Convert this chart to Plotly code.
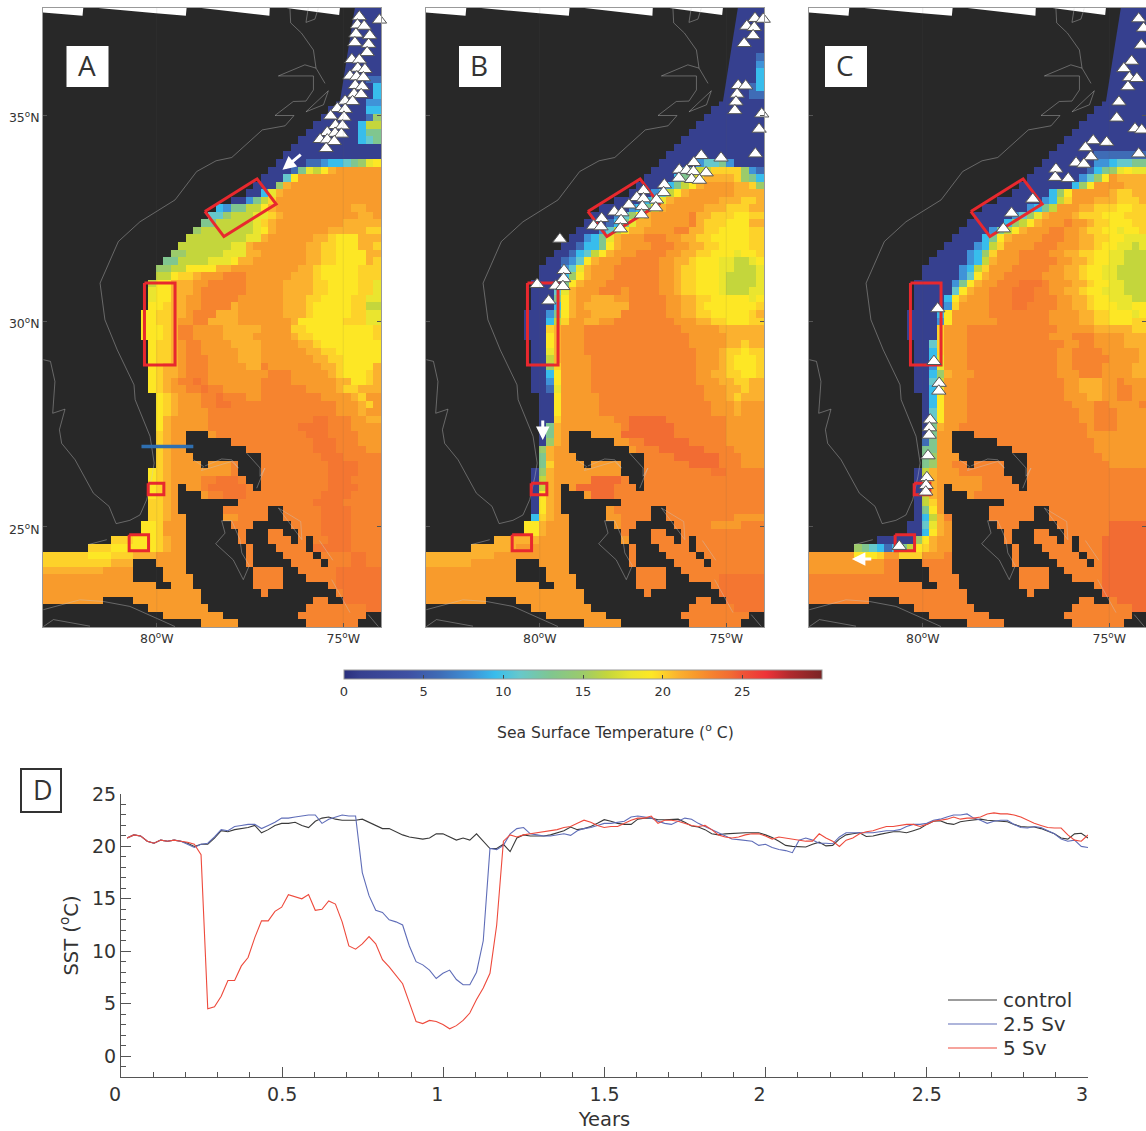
import plotly.graph_objects as go

W, H = 1146, 1131
LAND_COLOR = "#282828"

# ---------- SST classes (degC) used by the run-length rows below ----------
SST_CODES = {"A": 1, "B": 4, "C": 6, "D": 8, "E": 9.5, "F": 11, "G": 13, "H": 15, "I": 16.5,
             "J": 18, "K": 19.3, "L": 20, "M": 21, "N": 22, "O": 23, "P": 23.7, "Q": 24.2}

SST_A = ["A45"] * 9 + [
 "A43 C2", "A44 E1", "A44 E1", "A43 D2", "A43 E2", "A43 C1 H1", "A42 E1 I2", "A42 E1 G2", "A42 E1 F1 G1",
 "A45", "A45", "A35 C2 D1 E2 F1 G1 H1 J1 K1", "A33 C1 G1 J1 I1 K1 M1 N6", "A32 F1 K1 N11", "A31 H1 M1 N12",
 "A29 E1 J1 M1 N13", "A27 D1 G1 I1 L1 N14", "E24 D1 G2 I2 K1 M1 N10 M2 N2", "F24 H1 I3 J2 L1 M1 N10 M2 N1",
 "G23 I5 J1 L1 M1 N9 M5", "H21 I7 J1 K1 M1 N7 M5 L2", "I27 J2 M1 N6 M2 L1 K3 M3", "I25 J2 M1 N7 M2 L2 K3 M2 L1",
 "H19 I5 J3 M2 N6 M2 L2 K4 M2", "G18 I4 J3 K1 M2 N7 M2 L2 K4 M1 L1", "H17 I2 K4 M2 N9 M2 L1 K5 L3",
 "I17 K1 L2 M1 N3 O3 N6 M3 L1 K5 L3", "I15 K2 M3 N2 O5 N5 M4 L2 K4 L2 J1", "J15 K2 M3 N1 O6 N5 M4 L2 K4 L2 J1",
 "J15 K2 M2 N2 O5 N6 M3 L2 K4 L2 J2", "K16 L1 M2 N2 O4 M1 N6 M3 L1 K5 L2 I2", "K15 L2 M2 N1 O3 M3 N6 M3 L1 K5 L2 J2",
 "K15 L2 M1 N2 O2 M4 N7 M1 K6 L3 J2", "K16 L1 M1 O2 N4 M5 N4 L2 K9 L1", "K16 L1 M1 O2 N4 M4 N5 M1 L2 K8 L1",
 "K15 L2 M1 N1 O2 N4 M4 N5 M2 L1 K8", "K15 L2 M1 N1 O2 N5 M3 N6 M2 L2 K6", "K15 L2 M1 N1 O3 N4 M3 N7 M2 L2 K5",
 "K15 L1 M2 N1 O3 N5 M2 O1 N7 M2 L1 K4 M1", "K15 L1 M2 N1 O3 N8 O3 N5 M1 L1 K3 L1 M1", "K15 L1 M1 N1 O2 P1 O1 N7 O4 N6 M2 K2 L1 M1",
 "K15 L1 M1 N2 O2 P1 O2 N5 O6 N4 M1 L2 M3", "K16 L1 M1 N3 O2 P1 O3 N2 O8 N4 M1 L1 N2", "K16 L1 M1 N3 O2 P2 O14 N3 M1 L1 N1",
 "K16 L1 M1 N4 O17 N3 M1 N2", "K16 M1 N5 O14 P2 O3 N2 M2", "K16 M1 N5 O12 P4 O3 N4", "K15 L1 M1 N6 O12 P3 O4 N3",
 "K15 L1 M1 N6 O13 P3 O3 N3", "K15 L1 M1 N6 O13 P3 O4 N2", "K15 L1 M1 N8 O12 P3 O5", "K15 L1 M1 N8 O13 P4 O3",
 "K15 L1 M1 N8 O13 P4 O3", "K15 L1 M1 N4 O2 P3 O12 P3 O4", "K15 L1 M1 N4 O1 P5 O11 P4 O3", "K15 L1 M1 N5 O2 P3 O10 P4 O4",
 "K14 L2 M1 N7 O12 P4 O5", "K14 L2 M1 N7 O13 P4 O4", "K14 L2 M1 N9 O11 P4 O4", "K15 L1 N9 O12 P4 O4", "K15 L1 N10 O11 P4 O4",
 "L12 K3 L1 M1 N9 O12 P3 O4", "L9 K6 L1 M1 N9 O10 P5 O4", "L6 K3 L3 M3 N11 O15 P2 O2", "L9 M3 N14 O15 P2 O2",
 "M8 N18 O13 P6", "N26 O13 P6", "N26 O13 P6", "N26 O14 P5", "N28 O12 P5", "N30 O13 P2", "N30 O15", "N30 O15"]

SST_B = ["A45"] * 6 + [
 "A44 C1", "A44 D1", "A44 E1", "A44 E1", "A43 C1 E1", "A43 C2"] + ["A45"] * 8 + [
 "A36 D1 F2 G1 D1 A4", "A34 E1 G1 I2 L4 H1 D1 C1", "A33 E1 G1 I1 K1 M4 L1 H1 G1 E1", "A32 E1 G1 I1 K1 M1 N4 M2 L1 H1",
 "A30 D1 F1 I1 K1 M1 N6 M4", "A29 E1 G1 J1 M1 N6 M3 L2 M1", "A27 D1 E1 G1 J1 M1 N5 M3 L3 M2", "A25 D1 F1 H1 K1 M1 N5 O1 M2 L3 K2 L2",
 "A24 C1 E1 G1 J1 M2 N5 O1 M1 L3 K3 M2", "A23 D1 F1 I1 K1 M2 N4 O2 M2 L2 K4 L2", "A21 D1 E1 G1 J1 M1 N3 O3 N2 M2 L2 K5 L2",
 "A20 C1 E2 G1 K1 M1 N4 O3 N2 M2 L2 K4 L2", "A19 C1 E1 F1 I1 K1 M1 N3 O4 N2 M2 L2 K3 J1 K2 L1", "A18 C1 D1 F1 K1 M1 N3 O5 N2 M2 L1 K3 J2 I2 J1 K1",
 "A18 D1 F1 J1 M1 N3 O6 N2 M1 L2 K3 J2 I3 J1", "A18 E1 H1 K1 M1 N3 O6 N2 M1 L2 K3 J1 I4 J1", "A18 G1 K1 M1 N3 O7 N2 M1 L2 K3 J1 I4 J1",
 "A17 F1 J1 M1 N3 O3 N1 O4 N2 M1 L2 K3 J1 I3 J2", "A17 G1 K1 M1 N2 M3 N2 O5 N2 M2 L2 K5 J1 K1", "A17 E1 K1 M1 N1 M6 O5 N2 M2 L1 K7 L1",
 "A16 D1 G1 K1 M1 N2 M4 O6 N2 M2 L2 K5 L1 M1", "A16 E1 I1 L1 N2 M2 N2 O8 N3 M2 L2 K3 L2", "A16 L1 M1 N3 O13 N5 M6", "A16 K1 M1 N3 O14 N5 M5",
 "A16 K1 M1 N3 O14 N5 M2 L1 M2", "A16 J1 M1 N3 O15 N3 M1 L2 K1 L2", "A16 I1 M1 N4 O14 N3 M1 L1 K3 L1", "A16 H1 L1 N4 O14 N3 M1 L1 K3 L1",
 "A16 E1 K1 N4 O14 N2 M2 L2 K2 L1", "A16 D1 K1 N4 O14 N3 M2 L2 M2", "A16 C1 J1 N4 O15 N3 M2 L1 M2", "A17 K1 N5 O14 N3 M1 L1 M3",
 "A17 K1 N5 O15 N3 M1 N3", "A17 K1 N5 O15 N3 M1 N3", "A17 L1 N7 O2 Q5 O8 N5", "A16 G1 M1 N8 O1 Q6 O7 N5", "A16 G1 M1 N8 Q7 O7 N5",
 "A16 H1 M1 N9 O2 Q6 O5 N5", "A15 H1 M1 N11 O3 Q6 O4 N4", "A15 G1 M1 N11 O5 Q6 O3 N3", "A15 G1 L1 N12 O6 Q4 O3 N3", "A15 H1 M1 N9 O12 P2 O5",
 "A15 I1 M1 N5 Q4 O19", "A15 I1 M1 N3 Q5 O20", "A15 K1 M1 N5 Q3 O20", "A15 K1 M1 N7 O21", "A15 K1 M1 N8 O20", "E15 L1 M1 N9 O15 N4",
 "K15 M1 N10 O12 N4 O3", "K15 M1 N10 O19", "M15 N12 O18", "M12 N14 O19", "M9 N17 O19", "M6 N20 O19", "N26 O19",
 "N26 O13 P6", "N26 O13 P6", "N26 O13 P6", "N26 O13 P6", "N26 O15 P4", "N26 O19", "N26 O19"]

SST_C = ["A45"] * 19 + [
 "A38 C7", "A38 D2 E1 F2 G2", "A37 C1 E1 G1 H1 J1 K1 J2", "A36 D1 F1 H1 K1 N1 M4", "A35 E1 H1 K1 N4 M3", "A32 E1 H1 K1 N5 M1 L2 M2",
 "A31 D1 E1 I1 L1 N3 M3 L3 M1", "A29 D1 E1 G1 I1 N3 M2 L3 K2 L2", "A27 D1 F1 H1 J1 M1 N3 M1 L3 K3 L3", "A26 E1 H1 I1 K1 M1 N3 O1 N2 M1 L2 K3 L2",
 "A24 D1 G1 I1 K1 M1 N3 O2 N2 M1 L2 K2 J1 K2 L1", "A23 E1 G1 K1 M1 N4 O3 N2 M2 L2 K2 J3", "A22 D1 E1 I1 L1 N4 O3 N3 M2 L1 K2 J2 I1 J1",
 "A21 D1 E1 H1 L1 N3 O4 N2 M2 L2 K2 J2 I3", "A21 D1 E1 I1 M1 N3 O5 N2 M2 L1 K2 J2 I3", "A20 D1 E1 I1 L1 N3 O5 N2 M2 L1 K2 J2 I4",
 "A20 D1 F1 K1 M1 N2 O5 N3 M2 L1 K2 J2 I4", "A19 D1 G1 K1 M1 N2 O3 P3 O1 N3 M2 L1 K2 J2 I3", "A19 F1 K1 M1 N2 O3 P3 O2 N2 M2 L1 K2 J3 I3",
 "A18 E1 K1 M1 N3 O3 P3 O3 N2 M2 L1 K2 J3 I2", "A18 D1 L1 N4 O3 P2 O4 N2 M2 L1 K3 J2 K2", "A17 E1 K1 N5 O8 N4 M2 L2 K3 J1 K1",
 "A17 D1 K1 N6 O7 N4 M2 L2 K3 L2", "A17 L1 N3 O12 N5 M5 L2", "A17 L1 N3 O11 N3 O3 N4 M3", "A16 F1 L1 N3 O13 N2 O2 N4 M3", "A16 E1 L1 N3 O12 N2 O4 N5 M1",
 "A16 E1 J1 N3 O12 N2 O5 N4 M1", "A16 D1 J1 N3 O12 N2 O4 N4 M2", "A16 E1 H1 M1 N3 O11 N3 O3 N4 M2", "A16 F1 I1 N3 O13 N2 M3 N2 O1 N3",
 "A16 E1 J1 N3 O13 N2 M3 N2 O2 N2", "A16 E1 K1 N3 O13 N3 M2 N2 O2 N2", "A16 E1 K1 N3 O14 N3 O2 N4 O1", "A16 F1 K1 N3 O15 N2 O3 N4", "A16 F1 K1 N3 O15 N2 O3 N4",
 "A16 G1 M1 N2 O17 N1 O3 N4", "A16 G1 N3 O17 N8", "A15 C1 G1 N3 O18 N7", "A15 G2 N3 O18 N7", "A15 G1 H1 N3 O19 N6", "A15 G1 H1 N2 O21 N5",
 "A15 I1 M1 N3 O25", "A15 H1 M1 N6 O22", "A15 H1 M1 N6 O22", "A15 I1 M1 N5 O23", "A15 I1 L1 N1 O27", "A15 G1 K1 N2 O26", "A15 E1 I1 M1 O27",
 "A15 F1 J1 M1 N2 O20 Q5", "A15 E1 K1 M1 N2 O20 Q5", "A14 H1 K1 M1 N3 O19 Q6", "H7 G1 F1 E1 C1 E1 G1 I1 K1 L1 M1 N3 O19 Q6",
 "N6 K3 L1 N2 L3 N3 O21 Q6", "N10 O29 Q6", "N10 O29 Q6", "O39 Q6", "O39 Q6", "O39 Q6", "O41 Q4", "O43 Q2", "O45", "O45"]

# ---------- land mask on the model grid (45 columns, 82 rows from the north) ----------
SHORE_COLUMN = [39] * 13 + [38, 37, 36, 35, 34, 33, 32, 31, 30, 29, 28, 27, 25, 23, 22, 21, 20, 19, 18, 17, 16, 15, 15,
                14, 14, 14, 14, 13, 13, 13, 13] + [14] * 7 + [15] * 10 + [14] * 7 + [13, 13, 9, 6] + [0] * 10
ISLAND_RUNS = {
 56: [(19, 22)], 57: [(19, 25)], 58: [(19, 27)], 59: [(20, 29)], 60: [(21, 22), (26, 29)], 61: [(26, 29)], 62: [(27, 29)],
 63: [(28, 29), (18, 19)], 64: [(18, 21)], 65: [(18, 26)], 66: [(18, 24), (30, 32)], 67: [(19, 24), (30, 32)],
 68: [(19, 25), (28, 33)], 69: [(19, 26), (27, 30), (32, 34)], 70: [(19, 26), (27, 30), (33, 34), (35, 36)],
 71: [(19, 27), (28, 31), (35, 36)], 72: [(19, 27), (28, 32), (36, 37)], 73: [(12, 15), (19, 27), (28, 33), (37, 38)],
 74: [(12, 16), (19, 28), (32, 34)], 75: [(12, 16), (20, 28), (32, 35)], 76: [(15, 17), (20, 28), (32, 38)],
 77: [(21, 29), (30, 39)], 78: [(8, 12), (21, 36), (38, 40)], 79: [(0, 14), (22, 35)], 80: [(0, 16), (24, 34), (43, 45)],
 81: [(0, 21), (26, 35), (42, 45)]}

# ---------- map geography (lon, lat) ----------
COAST_LON = [-76.43, -76.41, -76.12, -75.80, -75.73, -75.49, None,
             -75.73, -76.03, -76.74, -75.80, -75.80, -76.00, -76.34, -76.83, -76.32, -76.56, -77.17, -77.99, -78.41, -78.93,
             -79.51, -80.45, -81.03, -81.52, -81.39, -81.06, -80.61, -80.58, -80.18, -80.07, -80.13, -80.27, -80.45, -80.72,
             -81.09, -81.28, -81.70, -82.19, -82.55, -82.61, -82.46, -82.79, -82.73, -82.85, -83.04, None,
             -81.34, -81.84, None, -83.04, -82.06, -81.43, -80.72, -79.73, -79.51, None, -83.04, -82.77, -81.79, None,
             -75.67, -75.76, -76.00, -75.94, None, -75.40, -76.00, -75.53, -75.40, None,
             -79.02, -78.75, -78.80, -77.99, -77.81, -77.99, -78.26, -78.71, None,
             -77.59, -77.23, -77.23, -77.10, -77.32, None,
             -78.26, -77.99, -77.77, -77.72, -77.52, -77.68, -77.95, -78.42, -78.17, -78.26, None,
             -76.74, -76.14, -76.11, -76.74, None, -75.64, -75.28, None, -75.31, -74.82, None, -74.33, -74.06]
COAST_LAT = [37.59, 37.24, 36.99, 36.58, 36.14, 35.77, None,
             36.14, 36.22, 35.95, 35.95, 35.61, 35.34, 35.33, 34.99, 34.99, 34.74, 34.64, 33.97, 33.89, 33.63,
             32.94, 32.41, 31.93, 30.92, 30.03, 29.30, 28.45, 28.09, 27.20, 26.55, 26.22, 25.66, 25.29, 25.16,
             25.08, 25.50, 25.82, 26.63, 27.03, 27.36, 27.86, 27.76, 28.53, 29.02, 29.06, None,
             24.69, 24.57, None, 22.99, 23.23, 23.19, 23.07, 22.67, 22.58, None, 22.58, 22.75, 22.59, None,
             37.59, 37.33, 37.25, 37.59, None, 35.59, 35.08, 35.25, 35.59, None,
             26.63, 26.47, 26.37, 26.59, 26.43, 26.63, 26.65, 26.48, None,
             26.79, 26.43, 26.23, 26.43, 25.94, None,
             25.15, 25.15, 24.69, 24.37, 24.06, 23.72, 24.20, 24.59, 24.85, 25.15, None,
             25.46, 25.13, 24.69, 25.46, None, 24.67, 24.19, None, 23.72, 22.92, None, 22.87, 22.58]
NOMAP_LON = [-83.05, -81.97, -81.99, -83.05, None, -81.57, -80.02, -80.02, -81.57, None, -80.02, -79.20, -79.22, -80.02, None,
             -78.80, -76.97, -76.98, -78.80, None, -76.52, -75.09, -75.11, -76.52]
NOMAP_LAT = [37.6, 37.6, 37.41, 37.49, None, 37.6, 37.6, 37.47, 37.6, None, 37.6, 37.6, 37.41, 37.47, None,
             37.6, 37.6, 37.41, 37.6, None, 37.6, 37.6, 37.43, 37.6]
DOMAIN_EDGE_LON = [-74.69, -75.09, -75.7, -75.7, -74.69]
DOMAIN_EDGE_LAT = [37.6, 35.33, 35.33, 37.6, 37.6]
BOX_LON = [-78.71, -77.31, -76.80, -78.20, -78.71, None, -80.33, -79.51, -79.51, -80.33, -80.33, None,
           -80.23, -79.81, -79.81, -80.23, -80.23, None, -80.74, -80.22, -80.22, -80.74, -80.74]
BOX_LAT = [32.66, 33.45, 32.84, 32.05, 32.66, None, 30.92, 30.92, 28.93, 28.93, 30.92, None,
           26.06, 26.06, 25.78, 25.78, 26.06, None, 24.81, 24.81, 24.42, 24.42, 24.81]
SECTION_LON = [-80.41, -79.02]
SECTION_LAT = [26.95, 26.95]

FLOATS_A_LON = [-74.55, -74.57, -74.03, -74.62, -74.44, -74.66, -74.29, -74.69, -74.32, -74.36, -74.77, -74.57, -74.61, -74.42, -74.82,
                -74.64, -74.46, -74.68, -74.49, -74.71, -74.52, -74.95, -74.75, -75.16, -74.95, -75.34, -74.98, -75.21, -75.02, -75.43,
                -75.22, -75.05, -75.62, -75.43, -75.24, -75.46]
FLOATS_A_LAT = [37.62, 37.39, 37.31, 37.19, 37.16, 36.97, 36.93, 36.76, 36.72, 36.52, 36.35, 36.34, 36.14, 36.11, 35.95,
                35.93, 35.91, 35.72, 35.69, 35.51, 35.50, 35.34, 35.33, 35.16, 35.14, 34.98, 34.95, 34.75, 34.74, 34.58,
                34.56, 34.54, 34.41, 34.40, 34.36, 34.19]
FLOATS_B_LON = [-74.23, -74.01, -74.45, -74.25, -74.28, -74.52, -74.68, -74.48, -74.71, -74.74, -74.77, -74.05, -74.12, -74.22, -75.14,
                -75.67, -75.87, -76.26, -76.06, -75.88, -75.54, -76.27, -75.93, -75.72, -76.66, -76.68, -77.22, -77.40, -77.22, -76.87,
                -77.61, -77.25, -76.89, -78.00, -77.80, -77.27, -78.34, -77.82, -78.56, -78.36, -77.84, -79.46, -79.35, -79.36, -80.07,
                -79.57, -79.38, -79.76]
FLOATS_B_LAT = [37.35, 37.33, 37.16, 37.13, 36.93, 36.74, 35.72, 35.71, 35.51, 35.32, 35.11, 35.03, 34.66, 34.06, 33.96,
                34.02, 33.85, 33.67, 33.66, 33.63, 33.60, 33.47, 33.44, 33.42, 33.31, 33.12, 33.17, 33.00, 32.97, 32.94,
                32.82, 32.78, 32.75, 32.65, 32.63, 32.58, 32.49, 32.44, 32.31, 32.29, 32.24, 31.99, 31.23, 31.03, 30.89,
                30.85, 30.84, 30.49]
FLOATS_C_LON = [-74.21, -74.08, -74.14, -74.40, -74.61, -74.46, -74.26, -74.50, -74.74, -74.80, -74.31, -74.13, -75.43, -75.07, -75.64,
                -74.21, -75.49, -75.89, -75.68, -76.43, -76.45, -76.10, -77.05, -77.62, -77.84, -79.60, -79.70, -79.56, -79.57, -79.80,
                -79.82, -79.83, -79.86, -79.89, -79.91, -79.92, -80.63]
FLOATS_C_LAT = [37.34, 37.11, 36.70, 36.31, 36.13, 35.91, 35.89, 35.69, 35.32, 34.93, 34.67, 34.64, 34.38, 34.34, 34.21,
                34.06, 33.99, 33.84, 33.81, 33.69, 33.49, 33.46, 32.96, 32.62, 32.24, 30.30, 29.02, 28.49, 28.30, 27.60,
                27.41, 27.23, 26.73, 26.20, 26.01, 25.85, 24.53]

# ---------- time series, panel D ----------
SST_CONTROL = [20.8, 21.1, 21.0, 20.5, 20.3, 20.6, 20.5, 20.6, 20.5, 20.3, 20.0, 20.2, 20.2, 20.8, 21.5, 21.4, 21.6, 21.7, 21.8, 22.0,
 21.3, 21.6, 22.0, 22.2, 22.2, 22.3, 22.0, 21.8, 22.4, 22.7, 22.8, 22.6, 22.5, 22.5, 22.5, 22.6, 22.3, 22.0, 21.7, 21.7,
 21.4, 21.1, 20.9, 20.8, 20.7, 20.8, 21.2, 21.2, 20.9, 20.6, 20.8, 20.6, 21.2, 20.5, 19.8, 19.8, 20.2, 19.5, 20.8, 21.1,
 21.0, 21.0, 21.0, 21.1, 21.3, 21.5,
 21.85, 21.6, 21.7, 21.9, 22.2, 22.55, 22.4, 22.2, 22.1, 22.1, 22.6, 22.7, 22.7, 22.55, 22.55, 22.55, 22.6, 22.3, 21.95, 21.85,
 21.6, 21.2, 21.1, 21.2, 21.25, 21.3, 21.3, 21.3, 21.3, 21.1, 20.85, 20.5, 20.1, 20.0, 20.0, 19.95, 20.2, 20.4, 20.05, 20.1,
 20.7, 21.1, 21.2, 21.3, 20.95, 21.0, 21.15, 21.3, 21.4, 21.4, 21.3, 21.5, 21.7, 22.1, 22.4, 22.45, 22.2, 22.1, 22.35, 22.45,
 22.55, 22.6, 22.5, 22.45, 22.4, 22.35, 22.1, 21.9, 21.85, 21.85, 21.7, 21.45, 21.2, 20.8, 20.7, 21.2, 21.25, 20.8]
SST_25SV = [20.8, 21.1, 21.0, 20.5, 20.3, 20.6, 20.5, 20.6, 20.5, 20.2, 19.9, 20.2, 20.3, 20.9, 21.6, 21.5, 21.9, 22.0, 22.1, 22.1,
 21.7, 22.0, 22.3, 22.7, 22.7, 22.8, 22.9, 23.0, 23.0, 22.2, 22.6, 22.8, 23.0, 22.9, 22.9, 17.5, 15.3, 13.9, 13.7, 13.0,
 12.8, 12.5, 10.5, 9.0, 8.7, 8.2, 7.4, 7.9, 8.2, 7.3, 6.8, 6.8, 8.0, 11.0, 19.8, 19.7, 20.1, 21.2, 21.7, 21.8,
 21.2, 21.1, 21.0, 21.0, 21.1, 21.2,
 21.05, 21.5, 21.7, 21.8, 22.0, 22.2, 22.2, 22.3, 22.4, 22.8, 22.9, 22.8, 22.7, 22.4, 22.2, 22.1, 22.4, 22.7, 22.6, 22.2,
 21.9, 21.6, 21.3, 21.0, 20.7, 20.65, 20.6, 20.5, 20.1, 20.2, 19.9, 19.7, 19.6, 19.4, 20.6, 20.8, 20.6, 20.3, 20.3, 20.25,
 20.9, 21.3, 21.3, 21.3, 21.3, 21.3, 21.4, 21.5, 21.5, 21.6, 21.9, 22.1, 22.1, 22.2, 22.5, 22.6, 22.8, 23.0, 23.0, 23.1,
 22.7, 22.5, 22.2, 22.4, 22.5, 22.5, 22.1, 21.8, 21.75, 21.9, 21.8, 21.5, 21.2, 20.7, 20.5, 20.6, 20.0, 19.9]
SST_5SV = [20.8, 21.1, 21.0, 20.5, 20.3, 20.6, 20.5, 20.6, 20.5, 20.4, 20.2, 19.2, 4.5, 4.7, 5.7, 7.2, 7.2, 8.6, 9.4, 11.3,
 12.9, 12.9, 13.8, 14.2, 15.4, 15.2, 15.0, 15.4, 13.9, 14.0, 14.8, 14.5, 12.8, 10.5, 10.2, 10.7, 11.4, 10.7, 9.2, 8.5,
 7.7, 6.9, 5.1, 3.3, 3.1, 3.4, 3.3, 3.0, 2.6, 2.9, 3.4, 4.1, 5.4, 6.5, 7.9, 12.5, 20.5, 21.1, 20.9, 21.1,
 21.2, 21.3, 21.4, 21.5, 21.6, 21.8,
 21.9, 22.2, 22.5, 22.3, 22.0, 21.8, 21.9, 21.9, 22.2, 22.5, 22.7, 22.7, 22.9, 22.2, 22.5, 22.5, 22.4, 22.2, 22.0, 21.9,
 22.0, 21.6, 21.1, 20.9, 20.8, 20.9, 21.1, 21.2, 21.2, 21.0, 20.7, 20.9, 20.8, 20.7, 20.6, 20.5, 20.5, 21.2, 20.8, 20.5,
 20.0, 20.6, 20.8, 21.2, 21.4, 21.5, 21.7, 21.9, 21.9, 22.0, 22.1, 22.1, 21.9, 22.1, 22.4, 22.5, 22.6, 22.8, 22.6, 22.7,
 22.7, 22.8, 23.1, 23.2, 23.1, 23.1, 23.0, 22.8, 22.5, 22.2, 22.0, 21.8, 21.75, 21.75, 21.1, 20.6, 20.5, 21.1]
SERIES_NAMES = ["control", "2.5 Sv", "5 Sv"]
SERIES_COLORS = ["#3a3a3a", "#5f6db8", "#ee4a3c"]
TIME_START, TIME_END = 0.019, 3.0

SST_COLORS = [(0, "#2a2f7c"), (1, "#36408f"), (4, "#3f50a3"), (6, "#3f6cb6"), (8, "#3f93d8"), (9.5, "#38bdec"), (11, "#66c8cc"),
              (13, "#80c68f"), (15, "#9ccb6a"), (16.5, "#c4d63c"), (18, "#eae52f"), (19.3, "#fde725"), (20, "#fdd22a"),
              (21, "#fbb12f"), (22, "#f89b2c"), (23, "#f6842f"), (24.3, "#f26a33"), (25, "#ef5437"), (26.5, "#ee3338"),
              (28, "#b02a2e"), (30, "#7a2525")]

# ---------- map geometry ----------
LON_W, LON_SPAN, LAT_N, LAT_S = -83.05, 338 / 37.3, 37.6, 22.57
NC, NR = 45, 82
DX, DY = LON_SPAN / NC, (LAT_N - LAT_S) / NR
LONS = [LON_W + (c + .5) * DX for c in range(NC)]
LATS = [LAT_N - (r + .5) * DY for r in range(NR)]


def decode(rows):
    grid = []
    for r in range(NR):
        vals = []
        for tok in rows[r].split():
            vals += [SST_CODES[tok[0]]] * int(tok[1:])
        vals = (vals + vals[-1:] * NC)[:NC]
        for c in range(SHORE_COLUMN[r]):
            vals[c] = None
        for a, b in ISLAND_RUNS.get(r, []):
            for c in range(a, b):
                vals[c] = None
        grid.append(vals)
    return grid


def px(x):
    return x / W


def py(y):
    return 1 - y / H


FONT = "DejaVu Sans"
TXT = "#333333"
fig = go.Figure()
panels = [("A", "x", "y", 43, 381, SST_A, FLOATS_A_LON, FLOATS_A_LAT),
          ("B", "x2", "y2", 426, 764, SST_B, FLOATS_B_LON, FLOATS_B_LAT),
          ("C", "x3", "y3", 809, 1146, SST_C, FLOATS_C_LON, FLOATS_C_LAT)]
shapes, annos = [], []
LABEL_X = {"A": 87.5, "B": 480, "C": 846}
for name, xa, ya, left, right, rows, flon, flat in panels:
    fig.add_trace(go.Heatmap(x=LONS, y=LATS, z=decode(rows), coloraxis="coloraxis", xaxis=xa, yaxis=ya,
                             hoverongaps=False, name="SST " + name, zsmooth=False))
    fig.add_trace(go.Scatter(x=DOMAIN_EDGE_LON, y=DOMAIN_EDGE_LAT, mode="lines", fill="toself", fillcolor=LAND_COLOR,
                             line=dict(width=0), xaxis=xa, yaxis=ya, showlegend=False, hoverinfo="skip"))
    fig.add_trace(go.Scatter(x=NOMAP_LON, y=NOMAP_LAT, mode="lines", fill="toself", fillcolor="white",
                             line=dict(width=0), xaxis=xa, yaxis=ya, showlegend=False, hoverinfo="skip"))
    fig.add_trace(go.Scatter(x=COAST_LON, y=COAST_LAT, mode="lines", line=dict(color="rgba(200,200,200,0.5)", width=0.8),
                             xaxis=xa, yaxis=ya, showlegend=False, hoverinfo="skip"))
    fig.add_trace(go.Scatter(x=BOX_LON, y=BOX_LAT, mode="lines", line=dict(color="#e8282e", width=3),
                             xaxis=xa, yaxis=ya, showlegend=False, hoverinfo="skip"))
    if name == "A":
        fig.add_trace(go.Scatter(x=SECTION_LON, y=SECTION_LAT, mode="lines", line=dict(color="#2f6fb0", width=3.5),
                                 xaxis=xa, yaxis=ya, showlegend=False, hoverinfo="skip"))
    fig.add_trace(go.Scatter(x=flon, y=flat, mode="markers", cliponaxis=False, xaxis=xa, yaxis=ya, showlegend=False,
                             marker=dict(symbol="triangle-up", size=12.5, color="white", line=dict(color="#555", width=1))))
    for lon in (-80, -75):
        shapes.append(dict(type="line", xref=xa, yref=ya, x0=lon, x1=lon, y0=LAT_S, y1=LAT_N,
                           line=dict(color="rgba(90,90,90,0.15)", width=0.8)))
    cx = LABEL_X[name]
    shapes.append(dict(type="rect", xref="paper", yref="paper", x0=px(cx - 21), x1=px(cx + 21), y0=py(87), y1=py(46),
                       fillcolor="white", line=dict(width=0)))
    annos.append(dict(text=name, xref="paper", yref="paper", x=px(cx - 1), y=py(65.5), showarrow=False, xanchor="center", yanchor="middle",
                      font=dict(family="Open Sans", size=28, color=TXT)))
    idx = "" if xa == "x" else xa[1:]
    lay_x = dict(domain=[px(left), min(1, px(right))], range=[LON_W, LON_W + (right - left) / 37.3], anchor=ya,
                 tickvals=[-80, -75], ticktext=["80<sup>o</sup>W", "75<sup>o</sup>W"], ticks="inside", ticklen=4,
                 tickcolor="#555", linecolor="#999", linewidth=1, mirror=True, showgrid=False, zeroline=False,
                 tickfont=dict(family=FONT, size=12.5, color=TXT))
    lay_y = dict(domain=[py(627), py(8)], range=[LAT_S, LAT_N], anchor=xa, tickvals=[25, 30, 35],
                 ticktext=["25<sup>o</sup>N", "30<sup>o</sup>N", "35<sup>o</sup>N"], ticks="inside", ticklen=4, ticklabelshift=3,
                 tickcolor="#555", linecolor="#999", linewidth=1, mirror="allticks", showgrid=False, zeroline=False,
                 showticklabels=name == "A", tickfont=dict(family=FONT, size=12.5, color=TXT))
    fig.update_layout({"xaxis" + idx: lay_x, "yaxis" + idx: lay_y})

# white arrows
ARROWS = [("x", "y", -76.10, 34.07, -76.63, 33.67), ("x2", "y2", -79.92, 27.62, -79.92, 27.11),
          ("x3", "y3", -81.34, 24.22, -81.90, 24.22)]
for xa, ya, x0, y0, x1, y1 in ARROWS:
    annos.append(dict(x=x1, y=y1, ax=x0, ay=y0, xref=xa, yref=ya, axref=xa, ayref=ya, text="", showarrow=True,
                      arrowhead=2, arrowsize=0.9, arrowwidth=3, arrowcolor="white"))

# panel D
for vals, nm, col in zip([SST_CONTROL, SST_25SV, SST_5SV], SERIES_NAMES, SERIES_COLORS):
    m = len(vals)
    t = [TIME_START + (TIME_END - TIME_START) * i / (m - 1) for i in range(m)]
    fig.add_trace(go.Scatter(x=t, y=vals, mode="lines", name=nm, xaxis="x4", yaxis="y4", showlegend=False,
                             line=dict(color=col, width=1.1)))

# legend of panel D, spaced as in the original
LEGEND_Y = [1000, 1024, 1048]
for nm, col, ly in zip(SERIES_NAMES, SERIES_COLORS, LEGEND_Y):
    shapes.append(dict(type="line", xref="paper", yref="paper", x0=px(948), x1=px(997), y0=py(ly), y1=py(ly),
                       line=dict(color=col, width=1.1)))
    annos.append(dict(text=nm, xref="paper", yref="paper", x=px(1001), y=py(ly), xanchor="left", yanchor="middle",
                      showarrow=False, font=dict(family=FONT, size=20, color=TXT)))

NB = "\u00a0\u00a0"
fig.update_layout(
    xaxis4=dict(domain=[px(121), px(1088)], range=[0, 3], anchor="y4", tickvals=[0, .5, 1, 1.5, 2, 2.5, 3],
                ticktext=["0" + NB, "0.5", "1" + NB, "1.5", "2" + NB, "2.5", "3" + NB], ticks="inside", ticklen=10, tickcolor="#555",
                minor=dict(dtick=0.1, ticks="inside", ticklen=5, tickcolor="#555"), linecolor="#555", linewidth=1,
                showgrid=False, zeroline=False, tickfont=dict(family=FONT, size=19, color=TXT),
                title=dict(text="Years", font=dict(family=FONT, size=19.5, color=TXT), standoff=9)),
    yaxis4=dict(domain=[py(1077), py(794)], range=[-2, 25], anchor="x4", tickvals=[0, 5, 10, 15, 20, 25], ticks="inside",
                ticklen=10, tickcolor="#555", minor=dict(dtick=1, ticks="inside", ticklen=5, tickcolor="#555"),
                linecolor="#555", linewidth=1, showgrid=False, zeroline=False,
                tickfont=dict(family=FONT, size=19, color=TXT),
                title=dict(text="SST (<sup>o</sup>C)", font=dict(family=FONT, size=19.5, color=TXT), standoff=8)),
    coloraxis=dict(cmin=0, cmax=30, colorscale=[[v / 30, c] for v, c in SST_COLORS],
                   colorbar=dict(orientation="h", x=px(344), xanchor="left", y=py(670), yanchor="top", len=478 / W,
                                 lenmode="fraction", thickness=9, thicknessmode="pixels", xpad=0, ypad=0,
                                 tickvals=[0, 5, 10, 15, 20, 25], ticks="inside", ticklen=4, tickcolor="#444",
                                 outlinecolor="#999", outlinewidth=1, tickfont=dict(family=FONT, size=13, color=TXT))),
    shapes=shapes + [dict(type="rect", xref="paper", yref="paper", x0=px(21), x1=px(61), y0=py(812), y1=py(769),
                          line=dict(color="#333", width=2), fillcolor="white")],
    annotations=annos + [
        dict(text="D", xref="paper", yref="paper", x=px(43), y=py(789), showarrow=False, xanchor="center", yanchor="middle",
             font=dict(family="Open Sans", size=27, color=TXT)),
        dict(text="Sea Surface Temperature (<sup>o</sup> C)", xref="paper", yref="paper", x=px(615), y=py(731),
             showarrow=False, xanchor="center", yanchor="middle", font=dict(family=FONT, size=15.6, color=TXT))],
    width=W, height=H, margin=dict(l=0, r=0, t=0, b=0), paper_bgcolor="white", plot_bgcolor=LAND_COLOR, showlegend=False,
)
fig.update_layout(template=None)
# panel D has a white background of its own
fig.add_shape(type="rect", xref="x4", yref="y4", x0=0, x1=3, y0=-2, y1=25, fillcolor="white", line=dict(width=0), layer="below")

fig.write_html("out.html", post_script="document.body.style.margin='0';document.body.style.overflow='hidden';",
               config=dict(displayModeBar=False))
